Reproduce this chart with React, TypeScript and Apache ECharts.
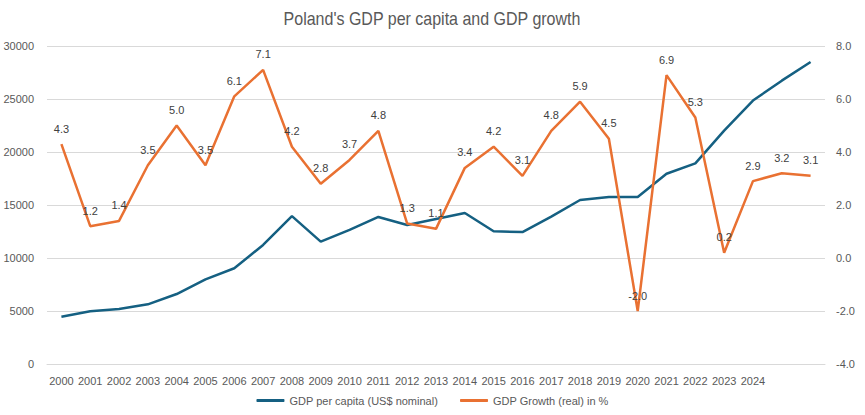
import React, { useEffect, useRef } from "react";
import * as echarts from "echarts";

// Years on the category axis; the last two points carry no tick label
const years = [
  "2000", "2001", "2002", "2003", "2004", "2005", "2006", "2007", "2008",
  "2009", "2010", "2011", "2012", "2013", "2014", "2015", "2016", "2017",
  "2018", "2019", "2020", "2021", "2022", "2023", "2024", "2025", "2026",
];
const labelledYears = years.slice(0, 25);

// GDP per capita, US$ nominal
const gdpPerCapita = [
  4450, 4980, 5190, 5630, 6600, 7990, 9030, 11230, 13950, 11540, 12650,
  13870, 13110, 13680, 14250, 12520, 12450, 13900, 15470, 15750, 15750,
  17950, 18930, 22010, 24850, 26730, 28490,
];

// Real GDP growth, %
const gdpGrowth = [
  4.3, 1.2, 1.4, 3.5, 5.0, 3.5, 6.1, 7.1, 4.2, 2.8, 3.7, 4.8, 1.3, 1.1, 3.4,
  4.2, 3.1, 4.8, 5.9, 4.5, -2.0, 6.9, 5.3, 0.2, 2.9, 3.2, 3.1,
];

const TITLE = "Poland's GDP per capita and GDP growth";
const BLUE = "#156082";
const ORANGE = "#E97132";
const TEXT = "#595959";
const GRID = "#d9d9d9";
const SANS = '"Liberation Sans", Arial, sans-serif';

export default function App() {
  const ref = useRef<HTMLDivElement>(null);

  useEffect(() => {
    document.body.style.margin = "0";
    if (!ref.current) return;
    const chart = echarts.init(ref.current, undefined, { renderer: "svg" });
    chart.setOption({
      animation: false,
      backgroundColor: "#ffffff",
      graphic: [
        {
          type: "text",
          x: 432,
          y: 19,
          scaleX: 0.89,
          style: {
            text: TITLE,
            fontFamily: SANS,
            fontSize: 18,
            fill: TEXT,
            align: "center",
            verticalAlign: "middle",
          },
        },
      ],
      legend: {
        bottom: 4,
        left: "center",
        icon: "roundRect",
        itemWidth: 28,
        itemHeight: 3,
        itemGap: 22,
        textStyle: { fontFamily: SANS, fontSize: 11, color: TEXT },
        data: ["GDP per capita (US$ nominal)", "GDP Growth (real) in %"],
      },
      grid: { left: 47, right: 40, top: 46, bottom: 51, containLabel: false },
      xAxis: {
        type: "category",
        data: years,
        boundaryGap: true,
        axisLine: { show: true, lineStyle: { color: GRID } },
        axisTick: { show: false },
        axisLabel: {
          interval: 0,
          color: TEXT,
          fontFamily: SANS,
          fontSize: 11,
          margin: 11,
          formatter: (v: string) => (labelledYears.includes(v) ? v : ""),
        },
      },
      yAxis: [
        {
          type: "value",
          min: 0,
          max: 30000,
          interval: 5000,
          axisLine: { show: false },
          axisTick: { show: false },
          splitLine: { lineStyle: { color: GRID } },
          axisLabel: {
            color: TEXT,
            fontFamily: SANS,
            fontSize: 11,
            margin: 13,
            formatter: (v: number) => String(v),
          },
        },
        {
          type: "value",
          min: -4,
          max: 8,
          interval: 2,
          axisLine: { show: false },
          axisTick: { show: false },
          splitLine: { show: false },
          axisLabel: {
            color: TEXT,
            fontFamily: SANS,
            fontSize: 11,
            margin: 11,
            formatter: (v: number) => v.toFixed(1),
          },
        },
      ],
      series: [
        {
          name: "GDP per capita (US$ nominal)",
          type: "line",
          yAxisIndex: 0,
          data: gdpPerCapita,
          symbol: "none",
          lineStyle: { color: BLUE, width: 2.5 },
          itemStyle: { color: BLUE },
        },
        {
          name: "GDP Growth (real) in %",
          type: "line",
          yAxisIndex: 1,
          data: gdpGrowth,
          symbol: "circle",
          symbolSize: 0,
          showSymbol: true,
          showAllSymbol: true,
          lineStyle: { color: ORANGE, width: 2.5 },
          itemStyle: { color: ORANGE },
          labelLayout: { hideOverlap: false },
          label: {
            show: true,
            position: "top",
            distance: 10,
            color: "#404040",
            fontFamily: SANS,
            fontSize: 11,
            formatter: (p: any) => Number(p.value).toFixed(1),
          },
        },
      ],
    });
    return () => chart.dispose();
  }, []);

  return <div ref={ref} style={{ width: 865, height: 415 }} />;
}
